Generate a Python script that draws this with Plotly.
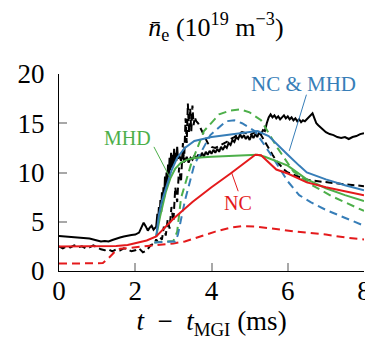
import plotly.graph_objects as go

# ---------------- data ----------------
t_exp_solid = [0.0, 0.2, 0.4, 0.6, 0.8, 1.0, 1.1, 1.2, 1.3, 1.4, 1.5, 1.6, 1.7, 1.8, 1.9, 2.0, 2.1,
               2.16, 2.22, 2.28, 2.33, 2.38, 2.43, 2.48, 2.52,
               2.55, 2.58, 2.60, 2.62, 2.64, 2.66, 2.68, 2.70, 2.72, 2.74, 2.76, 2.78, 2.80, 2.82,
               2.84, 2.86, 2.88, 2.90, 2.92, 2.94, 2.96, 2.98, 3.00, 3.02, 3.04, 3.06, 3.08, 3.10,
               3.12, 3.15, 3.20, 3.25, 3.30, 3.35, 3.40, 3.45, 3.50, 3.55, 3.60, 3.65, 3.70, 3.75,
               3.80, 3.85, 3.90, 3.95, 4.00, 4.05, 4.10, 4.15, 4.20, 4.25, 4.30, 4.35, 4.40, 4.45,
               4.50, 4.55, 4.60, 4.65, 4.70, 4.75, 4.80, 4.85, 4.90, 4.95, 5.00, 5.05, 5.10, 5.15,
               5.20, 5.25, 5.30, 5.35, 5.40, 5.45, 5.50, 5.55, 5.60, 5.65, 5.70, 5.75, 5.80, 5.85,
               5.90, 5.95, 6.00, 6.05, 6.10, 6.15, 6.20, 6.25, 6.30, 6.35, 6.40, 6.45, 6.50, 6.55,
               6.60, 6.65, 6.70, 6.75, 6.80, 6.85, 6.90, 6.95, 7.00, 7.10, 7.20, 7.30, 7.40, 7.50,
               7.60, 7.70, 7.80, 7.90, 8.00]
ne_exp_solid = [3.55, 3.5, 3.45, 3.4, 3.3, 3.1, 3.0, 3.05, 3.0, 3.15, 3.3, 3.4, 3.5, 3.6, 3.65, 3.7, 3.9,
                4.4, 4.9, 4.5, 4.1, 4.4, 4.6, 4.2, 4.4,
                4.5, 5.8, 5.0, 6.5, 5.5, 7.2, 6.0, 8.0, 6.8, 8.5, 7.5, 9.6, 8.2, 10.0,
                9.0, 10.8, 9.5, 11.5, 10.2, 12.0, 10.5, 11.8, 10.8, 12.4, 11.0, 12.0, 11.2, 12.6,
                11.4, 11.8, 11.2, 11.7, 11.1, 11.6, 11.0, 11.5, 11.3, 11.7, 11.4, 11.8, 11.5, 12.0,
                11.6, 12.1, 11.8, 12.2, 11.9, 12.3, 12.0, 12.4, 12.1, 12.6, 12.3, 12.7, 12.5, 13.0,
                12.8, 13.3, 13.1, 13.6, 13.4, 13.9, 13.5, 13.8, 13.4, 13.7, 13.3, 13.8, 13.5, 13.9,
                13.6, 14.1, 13.9, 14.3, 14.2, 15.0, 15.6, 15.9, 15.6, 15.8, 15.5, 15.7, 15.4, 15.6,
                15.8, 15.5, 15.7, 15.4, 15.6, 15.3, 15.5, 15.2, 15.4, 15.1, 15.3, 15.2, 15.4, 15.6,
                15.9, 16.0, 15.5, 15.0, 14.8, 14.6, 14.4, 14.3, 14.1, 13.9, 13.8, 13.6, 13.5, 13.6,
                13.4, 13.6, 13.7, 13.9, 14.0]

t_exp_dash = [0.0, 0.1, 0.2, 0.3, 0.4, 0.5, 0.6, 0.7, 0.8, 0.9, 1.0, 1.1, 1.2, 1.3, 1.4, 1.5, 1.6,
              1.7, 1.8, 1.9, 2.0, 2.1, 2.2, 2.3, 2.4, 2.5, 2.55, 2.6, 2.65, 2.7, 2.75, 2.8, 2.85,
              2.9, 2.95, 3.0, 3.05, 3.1, 3.15, 3.2, 3.25, 3.28, 3.32, 3.35, 3.38, 3.41, 3.44, 3.47,
              3.5, 3.53, 3.56, 3.6, 3.65, 3.7, 3.75, 3.8, 3.85, 3.9, 3.95, 4.0, 4.1, 4.2, 4.3, 4.4,
              4.5, 4.6, 4.7, 4.8, 4.9, 5.0, 5.1, 5.2, 5.3, 5.4, 5.5, 5.6, 5.7, 5.8, 5.9, 6.0, 6.2,
              6.4, 6.6, 6.8, 7.0, 7.2, 7.5, 7.8, 8.0]
ne_exp_dash = [2.5, 2.3, 2.5, 2.4, 2.6, 2.4, 2.5, 2.3, 2.4, 2.6, 2.4, 2.2, 2.1, 2.2, 2.0, 2.2, 2.1,
               2.3, 2.2, 2.0, 2.1, 2.3, 1.9, 2.1, 2.6, 2.8, 3.2, 2.9, 3.4, 3.2, 4.5, 3.6, 5.2,
               4.3, 6.5, 5.0, 8.5, 7.0, 10.5, 9.0, 13.0, 11.0, 15.5, 13.0, 17.0, 14.0, 16.5, 14.2,
               16.8, 14.8, 15.6, 15.2, 15.0, 14.6, 14.2, 13.8, 13.4, 13.0, 12.8, 12.6, 12.5, 12.7, 12.9, 13.1,
               13.4, 13.6, 13.9, 14.1, 14.0, 13.8, 14.0, 14.2, 13.8, 13.1, 12.4, 11.8, 11.2, 10.7, 10.3, 10.0, 9.7,
               9.4, 9.2, 9.1, 9.0, 8.95, 8.8, 8.7, 8.6]

t_nc = [0.0, 0.5, 1.0, 1.5, 1.8, 2.0, 2.3, 2.55, 3.0, 3.5, 4.0, 4.5, 5.0, 5.15, 5.3, 5.5, 5.7,
        6.0, 6.5, 7.0, 7.5, 8.0]
ne_nc = [2.5, 2.5, 2.5, 2.55, 2.65, 2.8, 3.1, 3.5, 5.3, 7.0, 8.5, 9.9, 11.3, 11.8, 11.75, 11.0, 10.3,
         9.9, 9.0, 8.5, 8.1, 7.7]

t_nc_d = [0.0, 0.5, 1.0, 1.15, 1.3, 1.45, 1.6, 2.0, 2.5, 3.0, 3.3, 3.7, 4.1, 4.5, 4.8, 5.2, 5.6,
          6.2, 7.0, 7.6, 8.0]
ne_nc_d = [0.75, 0.75, 0.75, 0.8, 1.3, 1.9, 2.25, 2.4, 2.6, 2.8, 3.0, 3.5, 4.0, 4.4, 4.55, 4.5, 4.3,
           4.0, 3.7, 3.35, 3.2]

t_mhd = [2.55, 2.65, 2.8, 2.92, 3.05, 3.2, 3.4, 3.6, 4.0, 4.5, 5.0, 5.2, 5.4, 5.6, 6.0, 6.5, 7.0,
         7.5, 8.0]
ne_mhd = [3.5, 5.5, 8.0, 9.4, 10.4, 11.0, 11.35, 11.5, 11.6, 11.7, 11.75, 11.8, 11.6, 11.3, 10.7,
          9.3, 8.4, 7.7, 7.1]

t_mhd_d = [2.5, 2.8, 3.0, 3.1, 3.2, 3.46, 3.8, 4.2, 4.5, 4.76, 5.0, 5.3, 5.73, 6.15, 6.6, 7.15,
           7.6, 8.0]
ne_mhd_d = [2.9, 3.0, 3.05, 4.0, 7.4, 10.8, 14.2, 15.9, 16.3, 16.4, 16.1, 15.3, 12.5, 10.1, 8.8,
            7.6, 6.8, 6.1]

t_both = [2.55, 2.62, 2.7, 2.8, 2.95, 3.1, 3.3, 3.55, 4.0, 4.4, 4.8, 5.2, 5.5, 5.75, 6.0, 6.3,
          6.5, 7.0, 7.5, 8.0]
ne_both = [3.5, 5.7, 7.1, 8.4, 10.2, 11.5, 12.5, 13.2, 13.6, 13.8, 14.0, 14.2, 13.7, 12.8, 11.8,
           10.7, 10.0, 9.3, 8.7, 8.2]

t_both_d = [2.5, 2.8, 3.05, 3.12, 3.3, 3.55, 3.97, 4.38, 4.6, 4.8, 5.14, 5.56, 6.0, 6.3, 6.6,
            7.0, 7.5, 8.0]
ne_both_d = [2.9, 2.95, 3.0, 3.7, 7.1, 10.8, 13.8, 15.2, 15.3, 15.0, 14.2, 11.8, 9.1, 7.7, 7.0,
             6.2, 5.4, 4.6]

x_ticks = [0, 2, 4, 6, 8]
y_ticks = [0, 5, 10, 15, 20]

RED = "#e41a1c"
GREEN = "#4daf4a"
BLUE = "#377eb8"
FONT = "Liberation Serif"

fig = go.Figure()

def add(x, y, color, dash=None, width=2):
    fig.add_trace(go.Scatter(x=x, y=y, mode="lines",
                             line=dict(color=color, width=width, dash=dash),
                             showlegend=False, hoverinfo="skip"))

add(t_exp_solid, ne_exp_solid, "black", width=2)
add(t_exp_dash, ne_exp_dash, "black", dash="7px,4px", width=2)
add(t_nc_d, ne_nc_d, RED, dash="8px,5px")
add(t_mhd_d, ne_mhd_d, GREEN, dash="8px,5px")
add(t_both_d, ne_both_d, BLUE, dash="8px,5px")
add(t_mhd, ne_mhd, GREEN)
add(t_both, ne_both, BLUE)
add(t_nc, ne_nc, RED)

# label leader lines
fig.add_shape(type="line", x0=2.49, y0=12.6, x1=2.92, y1=9.4, line=dict(color=GREEN, width=1))
fig.add_shape(type="line", x0=6.49, y0=17.9, x1=6.04, y1=12.2, line=dict(color=BLUE, width=1))
fig.add_shape(type="line", x0=4.70, y0=8.1, x1=4.53, y1=9.95, line=dict(color=RED, width=1))

fig.add_annotation(x=1.79, y=13.5, text="MHD", showarrow=False,
                   font=dict(family=FONT, size=20, color=GREEN))
fig.add_annotation(x=6.42, y=19.0, text="NC &amp; MHD", showarrow=False,
                   font=dict(family=FONT, size=21, color=BLUE))
fig.add_annotation(x=4.70, y=6.9, text="NC", showarrow=False,
                   font=dict(family=FONT, size=20, color=RED))

fig.update_layout(
    width=373, height=339,
    margin=dict(l=49, r=10, t=66, b=76),
    paper_bgcolor="white", plot_bgcolor="white",
    font=dict(family=FONT, size=25, color="black"),
    title=dict(text="<i>n̄</i><sub>e</sub> (10<sup>19</sup> m<sup>−3</sup>)",
               x=0.5575, xanchor="center", yref="container", y=0.972, yanchor="top",
               font=dict(family=FONT, size=26, color="black")),
)
fig.update_xaxes(range=[0, 8], tickvals=x_ticks, ticktext=[str(v) for v in x_ticks],
                 showgrid=False, zeroline=False, showline=True, linecolor="black", linewidth=1,
                 ticks="inside", ticklen=8, tickwidth=1.5, tickcolor="#a8a8a8",
                 ticklabeloverflow="allow", ticklabelstandoff=-4,
                 tickfont=dict(family=FONT, size=27),
                 title=dict(text="<i>t</i>\u00a0\u00a0−\u00a0\u00a0<i>t</i><sub>MGI</sub> (ms)",
                            font=dict(family=FONT, size=27), standoff=0))
fig.update_yaxes(range=[0, 20], tickvals=y_ticks, ticktext=[str(v) for v in y_ticks],
                 showgrid=False, zeroline=False, showline=True, linecolor="black", linewidth=1,
                 ticks="inside", ticklen=8, tickwidth=1.5, tickcolor="#a8a8a8",
                 ticklabelstandoff=8,
                 tickfont=dict(family=FONT, size=27))

fig.write_html("out.html")
